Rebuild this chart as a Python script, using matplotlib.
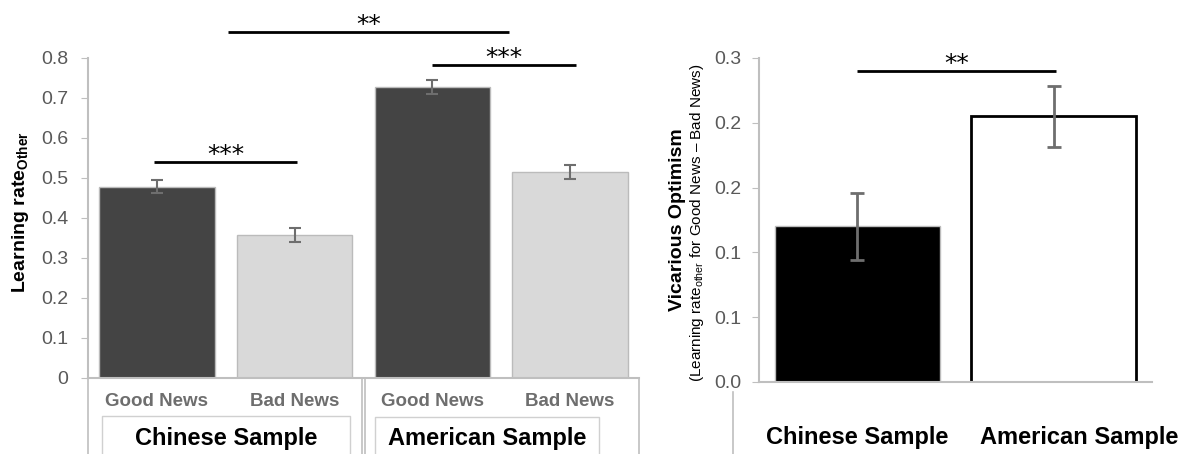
import matplotlib
matplotlib.use("Agg")
import matplotlib.pyplot as plt
import matplotlib.transforms as mtransforms

plt.rcParams['font.family'] = ['Liberation Sans', 'DejaVu Sans']
plt.rcParams['mathtext.fontset'] = 'custom'
plt.rcParams['mathtext.rm'] = 'Liberation Sans'
plt.rcParams['mathtext.it'] = 'Liberation Sans:italic'
plt.rcParams['mathtext.bf'] = 'Liberation Sans:bold'

# left panel: learning rate for others
news_labels = ["Good News", "Bad News", "Good News", "Bad News"]
sample_labels = ["Chinese Sample", "American Sample"]
lr_means = [0.478, 0.358, 0.727, 0.515]
lr_err = [0.016, 0.017, 0.018, 0.018]
lr_ticks = [0, 0.1, 0.2, 0.3, 0.4, 0.5, 0.6, 0.7, 0.8]
lr_ticklabels = ["0", "0.1", "0.2", "0.3", "0.4", "0.5", "0.6", "0.7", "0.8"]

# right panel: vicarious optimism
vo_means = [0.120, 0.205]
vo_err = [0.026, 0.0235]
vo_ticks = [0, 0.05, 0.10, 0.15, 0.20, 0.25]
vo_ticklabels = ["0.0", "0.1", "0.1", "0.2", "0.2", "0.3"]

W, H = 1196, 454
fig = plt.figure(figsize=(W / 100, H / 100), dpi=100)

def px_axes(l, t, r, b):
    return fig.add_axes([l / W, (H - b) / H, (r - l) / W, (b - t) / H])

axis_gray = "#BFBFBF"
tick_gray = "#595959"
err_gray = "#6E6E6E"

# ---------------- left ----------------
ax = px_axes(88, 58, 639, 378)
x = range(len(lr_means))
cols = ["#444444", "#D9D9D9", "#444444", "#D9D9D9"]
ax.bar(x, lr_means, width=0.84, color=cols, edgecolor="#BBBBBB", linewidth=1, zorder=2)
ax.errorbar(x, lr_means, yerr=lr_err, fmt="none", ecolor=err_gray, elinewidth=1.5,
            capsize=4, capthick=1.5, zorder=3)
ax.set_xlim(-0.5, 3.5)
ax.set_ylim(0, 0.8)
ax.set_yticks(lr_ticks)
ax.set_yticklabels(lr_ticklabels, fontsize=14, color=tick_gray)
ax.tick_params(axis="y", length=5, color=axis_gray, pad=9)
ax.set_xticks([])
for s in ["top", "right"]:
    ax.spines[s].set_visible(False)
ax.spines["left"].set_color(axis_gray)
ax.spines["bottom"].set_color(axis_gray)
ax.spines["left"].set_linewidth(1.5)
ax.spines["bottom"].set_linewidth(1.5)
fig.text(21 / W, 1 - 212 / H, "Learning rate$_{\\mathregular{Other}}$", rotation=90,
         ha="center", va="center", fontsize=14, fontweight="bold")

tr = mtransforms.blended_transform_factory(ax.transData, ax.transAxes)
# category box lines under the axis
for xv in [-0.5, 1.49, 1.51, 3.5]:
    ax.plot([xv, xv], [0, -0.25], transform=tr, color=axis_gray, lw=1.2, clip_on=False)
for x0, x1, yt in [(-0.40, 1.40, -0.119), (1.58, 3.21, -0.122)]:
    ax.plot([x0, x0, x1, x1], [-0.25, yt, yt, -0.25], transform=tr, color="#D0D0D0",
            lw=1, clip_on=False)
for i, lab in enumerate(news_labels):
    ax.text(i, -0.075, lab, transform=tr, ha="center", va="center", fontsize=13.5,
            fontweight="bold", color="#6E6E6E")
for xc, lab in zip([0.5, 2.4], sample_labels):
    ax.text(xc, -0.19, lab, transform=tr, ha="center", va="center", fontsize=17,
            fontweight="bold", color="black")

def sig(a, x0, x1, y, txt, dy):
    a.plot([x0, x1], [y, y], color="black", lw=2, clip_on=False, solid_capstyle="butt")
    a.text((x0 + x1) / 2, y + dy, txt, ha="center", va="bottom", fontsize=18,
           family="DejaVu Sans", clip_on=False)

sig(ax, 0.516, 2.556, 0.865, "**", -0.012)
sig(ax, -0.02, 1.02, 0.54, "***", -0.012)
sig(ax, 2.0, 3.04, 0.7825, "***", -0.012)

# ---------------- right ----------------
ax2 = px_axes(759, 58, 1152, 382)
x2 = range(len(vo_means))
ax2.bar(x2, vo_means, width=0.84, color=["black", "white"], edgecolor=["#BBBBBB", "black"],
        linewidth=[1, 2], zorder=2)
ax2.errorbar(x2, vo_means, yerr=vo_err, fmt="none", ecolor=err_gray, elinewidth=2,
             capsize=5, capthick=2, zorder=3)
ax2.set_xlim(-0.5, 1.5)
ax2.set_ylim(0, 0.25)
ax2.set_yticks(vo_ticks)
ax2.set_yticklabels(vo_ticklabels, fontsize=14, color=tick_gray)
ax2.tick_params(axis="y", length=5, color=axis_gray, pad=8)
ax2.set_xticks([])
for s in ["top", "right"]:
    ax2.spines[s].set_visible(False)
ax2.spines["left"].set_color(axis_gray)
ax2.spines["bottom"].set_color(axis_gray)
ax2.spines["left"].set_linewidth(1.5)
ax2.spines["bottom"].set_linewidth(1.5)

tr2 = mtransforms.blended_transform_factory(ax2.transData, ax2.transAxes)
ax2.plot([-0.634, -0.634], [-0.031, -0.25], transform=tr2, color=axis_gray, lw=1.2,
         clip_on=False)
for i, lab in enumerate(sample_labels):
    ax2.text(i + (0 if i == 0 else 0.13), -0.17, lab, transform=tr2, ha="center",
             va="center", fontsize=17, fontweight="bold", color="black")

fig.text(677 / W, 1 - 220 / H, "Vicarious Optimism", rotation=90, ha="center", va="center",
         fontsize=14, fontweight="bold")
fig.text(697 / W, 1 - 223 / H,
         "(Learning rate$_{\\mathregular{other}}$ for Good News \u2013 Bad News)",
         rotation=90, ha="center", va="center", fontsize=11)

sig(ax2, 0.0, 1.01, 0.240, "**", -0.004)

fig.savefig("out.png", dpi=100)
